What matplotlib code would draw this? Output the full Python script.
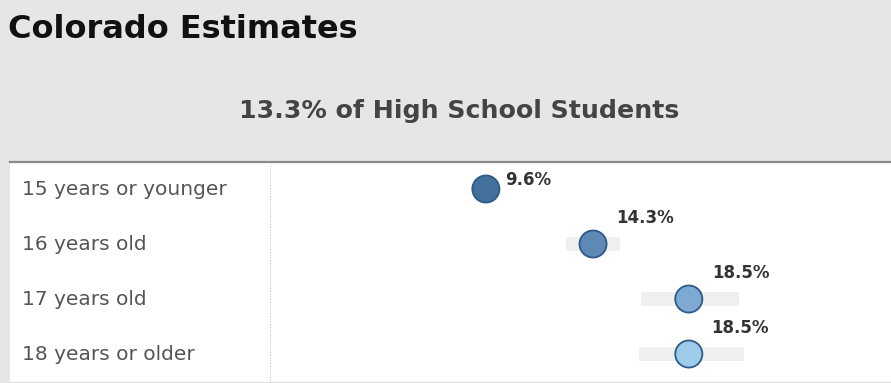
import numpy as np
import matplotlib
matplotlib.use('Agg')
import matplotlib.pyplot as plt
from matplotlib.patches import Rectangle
from matplotlib.lines import Line2D
from matplotlib.transforms import blended_transform_factory

# data -----------------------------------------------------------------------
title = 'Colorado Estimates'
subtitle = '13.3% of High School Students'
groups = ['15 years or younger', '16 years old', '17 years old', '18 years or older']
values = [9.6, 14.3, 18.5, 18.5]
ci_low = [9.2, 13.1, 16.4, 16.3]
ci_high = [10.0, 15.5, 20.7, 20.9]
colors = ['#44709e', '#5e89b6', '#7ea9d2', '#9fcbea']

W, H = 891, 383
fig = plt.figure(figsize=(W / 100, H / 100), dpi=100)
fig.patch.set_facecolor('#e6e6e6')

def fx(px):
    return px / W

def fy(py):
    return 1 - py / H

# white panel + rule lines
fig.patches.append(Rectangle((fx(10), 0), 1 - fx(10), fy(163), transform=fig.transFigure,
                             facecolor='white', edgecolor='none', zorder=-1))
fig.lines.append(Line2D([fx(10), 1], [fy(162), fy(162)], transform=fig.transFigure,
                        color='#8a8a8a', lw=1.6))
fig.lines.append(Line2D([fx(10), 1], [fy(381.5), fy(381.5)], transform=fig.transFigure,
                        color='#e0e0e0', lw=1))
fig.lines.append(Line2D([fx(270), fx(270)], [0, fy(163)], transform=fig.transFigure,
                        color='#c8c8c8', lw=0.8, ls=(0, (1, 1.5))))

fig.text(fx(8), fy(38), title, fontsize=23, fontweight='bold', color='#111111',
         va='baseline', ha='left')
fig.text(fx(459), fy(118), subtitle, fontsize=18.2, fontweight='bold', color='#444444',
         va='baseline', ha='center')

# plot area ------------------------------------------------------------------
ax = fig.add_axes([fx(270), 0, 1 - fx(270), fy(163)])
ax.set_facecolor('none')
ax.set_zorder(1)
ypos = np.arange(len(groups))
ax.set_xlim(3 / 22.8, (W - 270) / 22.8 + 3 / 22.8)
ax.set_ylim(3.527, -0.473)
ax.axis('off')

ax.barh(ypos, np.array(ci_high) - np.array(ci_low), left=ci_low, height=0.26,
        color='#efefef', zorder=1)
ax.scatter(values, ypos, s=19.5 ** 2, c=colors, edgecolors='#2e5a86', linewidths=1.3,
           zorder=3, clip_on=False)

offsets = [(13.5, 3), (17, 15), (17, 15), (16, 15)]
for v, y, off in zip(values, ypos, offsets):
    ax.annotate('{:.1f}%'.format(v), (v, y), xytext=off, textcoords='offset points',
                fontsize=12, fontweight='bold', color='#333333', va='baseline', ha='left')

# row labels
trans = blended_transform_factory(fig.transFigure, ax.transData)
for g, y in zip(groups, ypos):
    ax.text(fx(22), y, g, transform=trans, fontsize=14.5, color='#555555',
            va='center', ha='left')

fig.savefig('out.png', dpi=100, facecolor=fig.get_facecolor())
